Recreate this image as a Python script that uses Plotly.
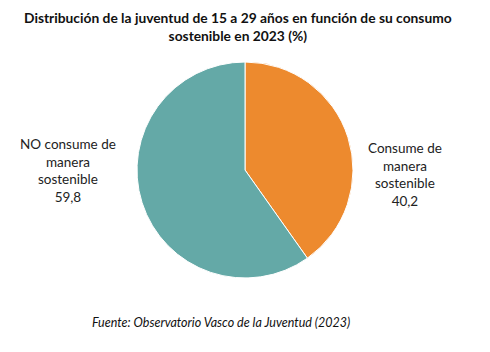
import plotly.graph_objects as go

categories = ["Consume de manera sostenible", "NO consume de manera sostenible"]
label_lines = [["Consume de", "manera", "sostenible"], ["NO consume de", "manera", "sostenible"]]
values = [40.2, 59.8]
colors = ["#ED8A2E", "#64A9A7"]

W, H = 490, 352
cx, cy, r = 245, 170, 108

fig = go.Figure(go.Pie(
    labels=categories, values=values, sort=False, direction="clockwise", rotation=0,
    marker=dict(colors=colors, line=dict(color="white", width=1)),
    textinfo="none", hoverinfo="label+value", showlegend=False,
    domain=dict(x=[(cx - r) / W, (cx + r) / W], y=[(H - cy - r) / H, (H - cy + r) / H]),
))

def fmt(v):
    return f"{v:.1f}".replace(".", ",")

label_pos = [(405, 175), (68, 170)]
for lines, v, (x, y) in zip(label_lines, values, label_pos):
    fig.add_annotation(text="<br>".join(lines + [fmt(v)]), x=x / W, y=1 - y / H,
                       xref="paper", yref="paper", showarrow=False, align="center",
                       xanchor="center", yanchor="middle",
                       font=dict(family="Lato", size=13.5, color="#222"))

fig.add_annotation(text="<b>Distribución de la juventud de 15 a 29 años en función de su consumo<br>sostenible en 2023 (%)</b>",
                   x=238 / W, y=1 - 27 / H, xref="paper", yref="paper", showarrow=False,
                   xanchor="center", yanchor="middle",
                   align="center", font=dict(family="Lato", size=13.8, color="#111"))
fig.add_annotation(text="<i>Fuente: Observatorio Vasco de la Juventud (2023)</i>",
                   x=221 / W, y=1 - 322 / H, xref="paper", yref="paper", showarrow=False,
                   xanchor="center", yanchor="middle",
                   font=dict(family="Lato", size=12.5, color="#111"))

fig.update_layout(width=W, height=H, margin=dict(l=0, r=0, t=0, b=0),
                  paper_bgcolor="white", plot_bgcolor="white")
fig.write_html("out.html")
